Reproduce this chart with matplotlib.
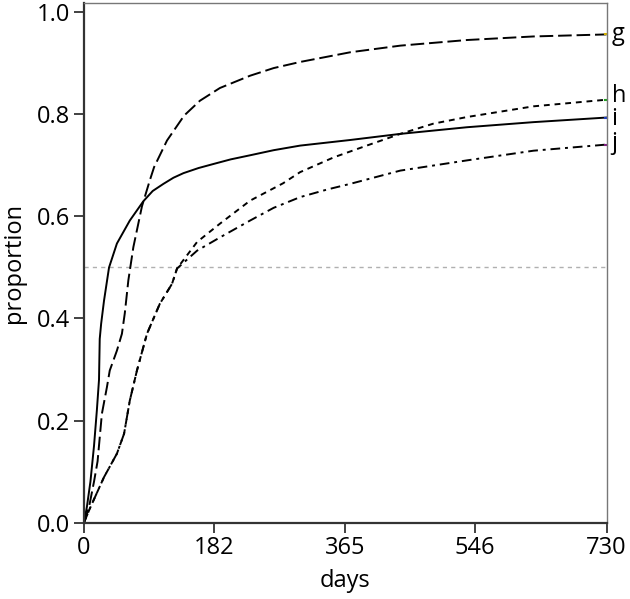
#!/usr/bin/env python3

# Import Packages
import matplotlib
matplotlib.use('Agg')
import matplotlib.pyplot as plt # Matplotlib plot

plt.rcParams['font.family'] = ['Open Sans', 'DejaVu Sans']

# Curve data (days, proportion)
days_g = [0, 7, 14, 19, 25, 32, 36, 46, 53, 57, 62, 69, 75, 81, 92, 98, 116, 140, 162, 190, 232, 265, 302, 372, 442, 535, 628, 730]
prop_g = [0, 0.03, 0.08, 0.12, 0.213, 0.265, 0.298, 0.337, 0.37, 0.41, 0.475, 0.54, 0.58, 0.62, 0.671, 0.697, 0.749, 0.798, 0.827, 0.852, 0.876, 0.891, 0.903, 0.922, 0.935, 0.946, 0.953, 0.957]

days_h = [0, 9, 28, 46, 56, 64, 74, 88, 106, 123, 130, 158, 190, 232, 278, 302, 349, 395, 442, 488, 535, 628, 730]
prop_h = [0, 0.03, 0.089, 0.135, 0.174, 0.239, 0.298, 0.37, 0.429, 0.468, 0.498, 0.55, 0.586, 0.631, 0.665, 0.687, 0.716, 0.739, 0.762, 0.782, 0.795, 0.816, 0.829]

days_i = [0, 4, 9, 14, 18, 21, 22, 24, 28, 35, 46, 64, 83, 96, 111, 125, 139, 160, 181, 205, 232, 265, 302, 372, 442, 535, 628, 730]
prop_i = [0, 0.03, 0.08, 0.15, 0.22, 0.28, 0.36, 0.39, 0.435, 0.5, 0.547, 0.592, 0.63, 0.65, 0.664, 0.676, 0.685, 0.695, 0.703, 0.712, 0.72, 0.73, 0.739, 0.75, 0.762, 0.775, 0.785, 0.794]

days_j = [0, 9, 28, 46, 56, 64, 74, 88, 106, 123, 130, 158, 190, 232, 265, 302, 340, 372, 442, 535, 628, 730]
prop_j = [0, 0.03, 0.089, 0.135, 0.174, 0.239, 0.298, 0.37, 0.429, 0.468, 0.498, 0.533, 0.559, 0.592, 0.617, 0.638, 0.653, 0.664, 0.69, 0.71, 0.729, 0.741]

labels = ['g', 'h', 'i', 'j']
label_y = [0.957, 0.837, 0.792, 0.745]
end_colors = ['#d4b000', '#22a022', '#2040c0', '#802080']
x_ticks = [0, 182, 365, 546, 730]
y_ticks = [0.0, 0.2, 0.4, 0.6, 0.8, 1.0]

# Figure and axes
fig = plt.figure(figsize=(6.3, 5.99), dpi=100)
ax = fig.add_axes([0.1333, 0.1277, 0.8294, 0.8673])

# Reference line at 0.5
ax.axhline(0.5, color='#b0b0b0', lw=1, linestyle=(0, (3, 3)))

# Curves
ax.plot(days_g, prop_g, color='black', lw=1.4, linestyle=(0, (7, 2.5)))
ax.plot(days_h, prop_h, color='black', lw=1.4, linestyle=(0, (3, 2.5)))
ax.plot(days_i, prop_i, color='black', lw=1.4, linestyle='-')
ax.plot(days_j, prop_j, color='black', lw=1.4, linestyle=(0, (5, 2.5, 1.5, 2.5)))

# Little coloured end marks and curve labels
ends = [prop_g[-1], prop_h[-1], prop_i[-1], prop_j[-1]]
for lab, ly, c, ye in zip(labels, label_y, end_colors, ends):
    ax.plot([728, 730], [ye, ye], color=c, lw=1.5, clip_on=False)
    ax.text(737, ly, lab, fontsize=17, va='center', ha='left', clip_on=False)

# Axes limits and ticks
ax.set_xlim(0, 730)
ax.set_ylim(0, 1.0186)
ax.set_xticks(x_ticks)
ax.set_xticklabels([str(t) for t in x_ticks])
ax.set_yticks(y_ticks)
ax.set_yticklabels(['%.1f' % t for t in y_ticks])
ax.tick_params(direction='out', length=7, width=1.3, labelsize=17, pad=3, color='#333333')

# Spines: left/bottom dark, top/right light
for s in ['left', 'bottom']:
    ax.spines[s].set_linewidth(1.6)
    ax.spines[s].set_color('#333333')
for s in ['top', 'right']:
    ax.spines[s].set_linewidth(1.0)
    ax.spines[s].set_color('#777777')

ax.set_xlabel('days', fontsize=17, labelpad=6)
ax.set_ylabel('proportion', fontsize=17, labelpad=8)

fig.savefig('out.png', dpi=100)
